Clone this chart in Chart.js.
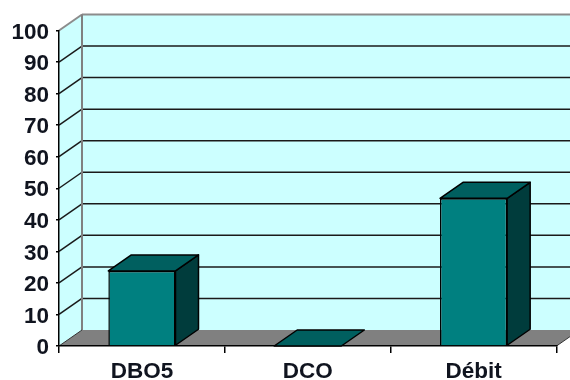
<!DOCTYPE html>
<html>
<head>
<meta charset="utf-8">
<script src="https://cdn.jsdelivr.net/npm/chart.js@4"></script>
<style>
  html, body { margin: 0; padding: 0; background: #fff; }
  #wrap { width: 570px; height: 380px; }
</style>
</head>
<body>
<div id="wrap"><canvas id="chart" width="570" height="380"></canvas></div>
<script>
const categories = ['DBO5', 'DCO', 'Débit'];
const values = [23.8, 0, 46.8];
const yTicks = [0, 10, 20, 30, 40, 50, 60, 70, 80, 90, 100];

// depth of the fake 3D box
const depthX = 23;
const depthY = 16;

function poly(ctx, pts, fill, stroke, lw) {
  ctx.beginPath();
  pts.forEach((p, i) => i ? ctx.lineTo(p[0], p[1]) : ctx.moveTo(p[0], p[1]));
  ctx.closePath();
  if (fill) { ctx.fillStyle = fill; ctx.fill(); }
  if (stroke) { ctx.strokeStyle = stroke; ctx.lineWidth = lw; ctx.lineJoin = 'round'; ctx.stroke(); }
}

function line(ctx, x1, y1, x2, y2, color, lw) {
  ctx.beginPath();
  ctx.moveTo(x1, y1);
  ctx.lineTo(x2, y2);
  ctx.strokeStyle = color;
  ctx.lineWidth = lw;
  ctx.stroke();
}

const walls = {
  id: 'walls',
  beforeDraw(chart) {
    const { ctx, chartArea: a, scales: { y } } = chart;
    const bx = a.left + depthX, by = depthY;
    ctx.save();
    // back wall, side wall, floor
    poly(ctx, [[bx, a.top - by], [a.right + depthX, a.top - by], [a.right + depthX, a.bottom - by], [bx, a.bottom - by]], '#ccffff');
    poly(ctx, [[a.left, a.top], [bx, a.top - by], [bx, a.bottom - by], [a.left, a.bottom]], '#ccffff');
    poly(ctx, [[a.left, a.bottom], [bx, a.bottom - by], [a.right + depthX, a.bottom - by], [a.right, a.bottom]], '#808080');
    yTicks.forEach(t => {
      const py = y.getPixelForValue(t);
      if (t === 0) return;
      const c = t === 100 ? '#8c8c8c' : '#1a1a1a';
      const w = t === 100 ? 2 : 1.5;
      line(ctx, a.left, py, bx, py - by, c, w);
      line(ctx, bx, py - by, a.right + depthX, py - by, c, w);
    });
    line(ctx, bx, a.top - by, bx, a.bottom - by, '#808080', 2);
    line(ctx, a.left, a.bottom, bx, a.bottom - by, '#333333', 1);
    line(ctx, a.right, a.bottom, a.right + depthX, a.bottom - by, '#333333', 1);
    ctx.restore();
  },
  beforeDatasetsDraw(chart) {
    const { ctx } = chart;
    ctx.save();
    chart.getDatasetMeta(0).data.forEach(bar => {
      const { x, y, base, width } = bar.getProps(['x', 'y', 'base', 'width'], true);
      const l = x - width / 2, r = x + width / 2;
      if (base - y > 1) {
        poly(ctx, [[r, y], [r + depthX, y - depthY], [r + depthX, base - depthY], [r, base]], '#003c3c', '#000000', 1.5);
      }
      poly(ctx, [[l, y], [l + depthX, y - depthY], [r + depthX, y - depthY], [r, y]], '#005f5f', '#000000', 1.5);
    });
    ctx.restore();
  }
};

new Chart(document.getElementById('chart'), {
  type: 'bar',
  data: {
    labels: categories,
    datasets: [{
      data: values,
      backgroundColor: '#008080',
      borderColor: '#000000',
      borderWidth: 1.5,
      barPercentage: 1,
      categoryPercentage: 0.405,
      clip: false
    }]
  },
  options: {
    responsive: false,
    animation: false,
    layout: { padding: { top: 30.5, right: 13.5, left: 0, bottom: 0 } },
    plugins: { legend: { display: false }, tooltip: { enabled: false } },
    scales: {
      x: {
        afterFit(scale) { scale.height = 34; },
        grid: { drawOnChartArea: false, color: '#000000', lineWidth: 1.5, tickLength: 7 },
        border: { color: '#000000', width: 1.5 },
        ticks: {
          color: '#10141f',
          padding: 5,
          maxRotation: 0,
          autoSkip: false,
          font: { family: 'Liberation Sans', size: 22.5, weight: 'bold' }
        }
      },
      y: {
        min: 0,
        max: 100,
        afterFit(scale) {
          scale.width = 59;
          // labels sit about 2px lower than the tick in the original
          if (!scale._shifted) {
            const compute = scale._computeLabelItems;
            scale._computeLabelItems = function (area) {
              const items = compute.call(this, area);
              items.forEach(item => { item.options.translation[1] += 2; });
              return items;
            };
            scale._shifted = true;
          }
        },
        afterBuildTicks(scale) { scale.ticks = yTicks.map(v => ({ value: v })); },
        grid: { drawOnChartArea: false, color: '#000000', lineWidth: 1.5, tickLength: 3 },
        border: { color: '#000000', width: 1.5 },
        ticks: {
          color: '#10141f',
          padding: 7,
          font: { family: 'Liberation Sans', size: 22.5, weight: 'bold' }
        }
      }
    }
  },
  plugins: [walls]
});
</script>
</body>
</html>
